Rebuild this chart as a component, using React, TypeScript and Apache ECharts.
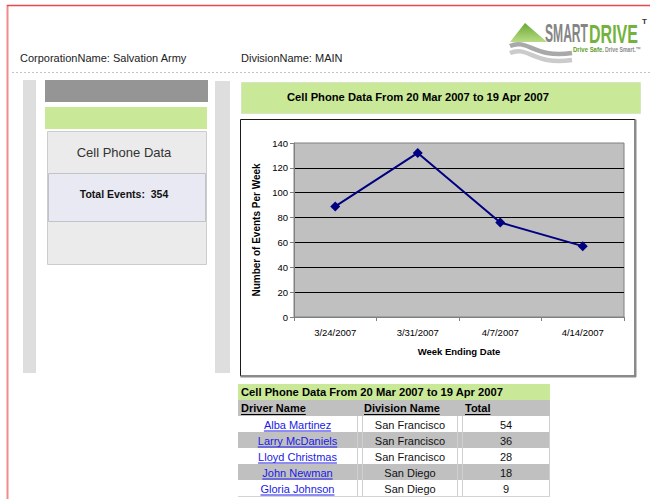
import React, { useEffect, useRef } from "react";
import * as echarts from "echarts";

// ---- data ----
const weeks = ["3/24/2007", "3/31/2007", "4/7/2007", "4/14/2007"];
const events = [89, 132, 76, 57];
const yMin = 0;
const yMax = 140;
const yStep = 20;
const drivers = ["Alba Martinez", "Larry McDaniels", "Lloyd Christmas", "John Newman", "Gloria Johnson"];
const divisions = ["San Francisco", "San Francisco", "San Francisco", "San Diego", "San Diego"];
const totals = [54, 36, 28, 18, 9];
const tableHeaders = ["Driver Name", "Division Name", "Total"];
const reportTitle = "Cell Phone Data From 20 Mar 2007 to 19 Apr 2007";
const corporation = "CorporationName: Salvation Army";
const division = "DivisionName: MAIN";
const panelTitle = "Cell Phone Data";
const xAxisName = "Week Ending Date";
const yAxisName = "Number of Events Per Week";

const FONT = "'Liberation Sans', Arial, Helvetica, sans-serif";

let measureCtx: CanvasRenderingContext2D | null = null;
function textWidth(t: string, font: string): number {
  if (!measureCtx) measureCtx = document.createElement("canvas").getContext("2d");
  if (!measureCtx) return t.length * 6;
  measureCtx.font = font;
  return measureCtx.measureText(t).width;
}

function rect(x1: number, y1: number, x2: number, y2: number, fill: any, stroke?: string, lw = 1) {
  return {
    type: "rect",
    silent: true,
    shape: { x: x1, y: y1, width: x2 - x1, height: y2 - y1 },
    style: { fill, stroke: stroke || "none", lineWidth: lw },
  };
}
function line(x1: number, y1: number, x2: number, y2: number, stroke: string, lw = 1, dash?: number[]) {
  return {
    type: "line",
    silent: true,
    shape: { x1, y1, x2, y2 },
    style: { stroke, lineWidth: lw, lineDash: dash },
  };
}
function text(x: number, y: number, t: string, o: any = {}) {
  return {
    type: "text",
    silent: true,
    x,
    y,
    scaleX: o.scaleX || 1,
    style: {
      text: t,
      fill: o.fill || "#000",
      fontSize: o.size || 11,
      fontFamily: o.family || FONT,
      fontWeight: o.weight || "normal",
      align: o.align || "left",
      verticalAlign: "middle",
    },
  };
}

export default function App() {
  const ref = useRef<HTMLDivElement>(null);
  useEffect(() => {
    if (!ref.current) return;
    const chart = echarts.init(ref.current, undefined, { renderer: "svg" });
    const g: any[] = [];

    // page frame
    g.push(line(7.5, 5, 7.5, 499, "#f08c8c", 2));
    g.push(line(7, 5.5, 650, 5.5, "#e64a4a", 1.5));
    g.push(line(12, 72.5, 650, 72.5, "#c4c4c4", 1, [2, 2]));

    // header texts
    g.push(text(20, 58, corporation, { fill: "#222" }));
    g.push(text(241, 58, division, { fill: "#222" }));

    // logo
    g.push({
      type: "polygon",
      silent: true,
      shape: { points: [[525, 23], [510, 42], [547, 42]] },
      style: {
        fill: new echarts.graphic.LinearGradient(0, 0, 0, 1, [
          { offset: 0, color: "#6aa832" },
          { offset: 1, color: "#b9dc86" },
        ]),
      },
    });
    g.push({
      type: "bezierCurve",
      silent: true,
      shape: { x1: 510, y1: 46, cpx1: 528, cpy1: 38, cpx2: 534, cpy2: 59, x2: 572, y2: 53 },
      style: { stroke: "#a9a9a9", lineWidth: 4.5, fill: "none" },
    });
    g.push({
      type: "bezierCurve",
      silent: true,
      shape: { x1: 510, y1: 53, cpx1: 528, cpy1: 45, cpx2: 534, cpy2: 66, x2: 572, y2: 60 },
      style: { stroke: "#cbcbcb", lineWidth: 4.5, fill: "none" },
    });
    const logoFont = `bold 26px ${FONT}`;
    const wS = textWidth("SMART", logoFont);
    const wD = textWidth("DRIVE", logoFont);
    g.push(text(545, 33.5, "SMART", { size: 26, weight: "bold", fill: "#858585", scaleX: 43 / wS }));
    g.push(text(589, 33.5, "DRIVE", { size: 26, weight: "bold", fill: "#74b23e", scaleX: 49 / wD }));
    g.push(text(642, 21, "T", { size: 8, weight: "bold", fill: "#333" }));
    const tagFont = `bold 7px ${FONT}`;
    const w1 = textWidth("Drive Safe.", tagFont);
    const w2 = textWidth("Drive Smart.\u2122", tagFont);
    g.push(text(573, 49, "Drive Safe.", { size: 7, weight: "bold", fill: "#5f9e2c", scaleX: 31 / w1 }));
    g.push(text(605, 49, "Drive Smart.\u2122", { size: 7, weight: "bold", fill: "#8a8a8a", scaleX: 36 / w2 }));

    // left panel
    g.push(rect(23, 80, 36, 373, "#dedede"));
    g.push(rect(215, 81, 230, 373, "#dedede"));
    g.push(rect(45, 80, 208, 102, "#959595"));
    g.push(rect(45, 107, 207, 129, "#c9e898"));
    g.push(rect(47.5, 131.5, 206.5, 264.5, "#ebebeb", "#cccccc"));
    g.push(rect(48.5, 173.5, 205.5, 221.5, "#e9e9f4", "#c2c2ca"));
    g.push(text(124, 152, panelTitle, { size: 13, fill: "#333", align: "center" }));
    const totalEvents = events.reduce((a, b) => a + b, 0);
    g.push(text(124, 194, "Total Events:\u00a0 " + totalEvents, { size: 10.5, weight: "bold", fill: "#111", align: "center" }));

    // title bar
    g.push(rect(241.5, 82.5, 640.5, 113.5, "#c9e898", "#d6e6c2"));
    g.push(text(287, 97, reportTitle, { weight: "bold", size: 11.2 }));

    // chart frame
    g.push(rect(240.5, 119.5, 635, 376, "transparent", "#1a1a1a", 1));
    g.push(line(635.5, 119.5, 635.5, 377, "#8a8a8a", 2));
    g.push(line(240.5, 376.5, 636, 376.5, "#8a8a8a", 2));

    // table
    const tx1 = 238, tx2 = 550;
    g.push(rect(tx1, 384, tx2, 400, "#c9e898"));
    g.push(text(241, 392, reportTitle, { weight: "bold", size: 11.2 }));
    g.push(rect(tx1, 400, tx2, 416, "#c0c0c0"));
    const hx = [241, 364, 465];
    const hFont = `bold 11px ${FONT}`;
    tableHeaders.forEach((h, i) => {
      g.push(text(hx[i], 408, h, { weight: "bold" }));
      const w = textWidth(h, hFont);
      g.push(line(hx[i], 414.5, hx[i] + w, 414.5, "#000", 1));
    });
    const colCenters = [297.5, 410, 506];
    const rowFont = `11px ${FONT}`;
    drivers.forEach((d, i) => {
      const y0 = 416 + i * 16;
      g.push(rect(tx1, y0, tx2, y0 + 16, i % 2 === 0 ? "#ffffff" : "#c0c0c0"));
      g.push(line(tx1, y0 + 16.5, tx2, y0 + 16.5, "#d4d4d4", 1));
      [357.5, 362.5, 457.5, 462.5, 549.5].forEach((vx) => g.push(line(vx, y0, vx, y0 + 16, "#cfcfcf", 1)));
      const cy = y0 + 8.5;
      g.push(text(colCenters[0], cy, d, { fill: "#1a1ae6", align: "center" }));
      const w = textWidth(d, rowFont);
      g.push(line(colCenters[0] - w / 2, cy + 6.5, colCenters[0] + w / 2, cy + 6.5, "#1a1ae6", 1));
      g.push(text(colCenters[1], cy, divisions[i], { fill: "#111", align: "center" }));
      g.push(text(colCenters[2], cy, String(totals[i]), { fill: "#111", align: "center" }));
    });

    chart.setOption({
      animation: false,
      backgroundColor: "#ffffff",
      graphic: g,
      grid: {
        left: 294,
        top: 143,
        width: 330,
        height: 174,
        show: true,
        backgroundColor: "#c0c0c0",
        borderColor: "#808080",
        borderWidth: 1,
      },
      xAxis: {
        type: "category",
        data: weeks,
        boundaryGap: true,
        axisLine: { lineStyle: { color: "#808080", width: 1 } },
        axisTick: { show: true, length: 4, lineStyle: { color: "#808080" } },
        axisLabel: { color: "#000", fontSize: 9.5, fontFamily: FONT, margin: 10 },
        name: xAxisName,
        nameLocation: "middle",
        nameGap: 29,
        nameTextStyle: { color: "#000", fontWeight: "bold", fontSize: 9.5, fontFamily: FONT },
      },
      yAxis: {
        type: "value",
        min: yMin,
        max: yMax,
        interval: yStep,
        axisLine: { show: true, lineStyle: { color: "#808080", width: 1 } },
        axisTick: { show: true, length: 4, lineStyle: { color: "#808080" } },
        axisLabel: { color: "#000", fontSize: 9.5, fontFamily: FONT, margin: 6 },
        splitLine: { show: true, showMinLine: false, showMaxLine: false, lineStyle: { color: "#000", width: 1 } },
        name: yAxisName,
        nameLocation: "middle",
        nameGap: 17,
        nameRotate: 90,
        nameTextStyle: { color: "#000", fontWeight: "bold", fontSize: 10, fontFamily: FONT },
      },
      series: [
        {
          type: "line",
          data: events,
          symbol: "diamond",
          symbolSize: 10,
          lineStyle: { color: "#000080", width: 2 },
          itemStyle: { color: "#000080" },
          z: 5,
        },
      ],
    });
    return () => chart.dispose();
  }, []);
  return <div ref={ref} style={{ position: "absolute", left: 0, top: 0, width: 650, height: 499 }} />;
}
